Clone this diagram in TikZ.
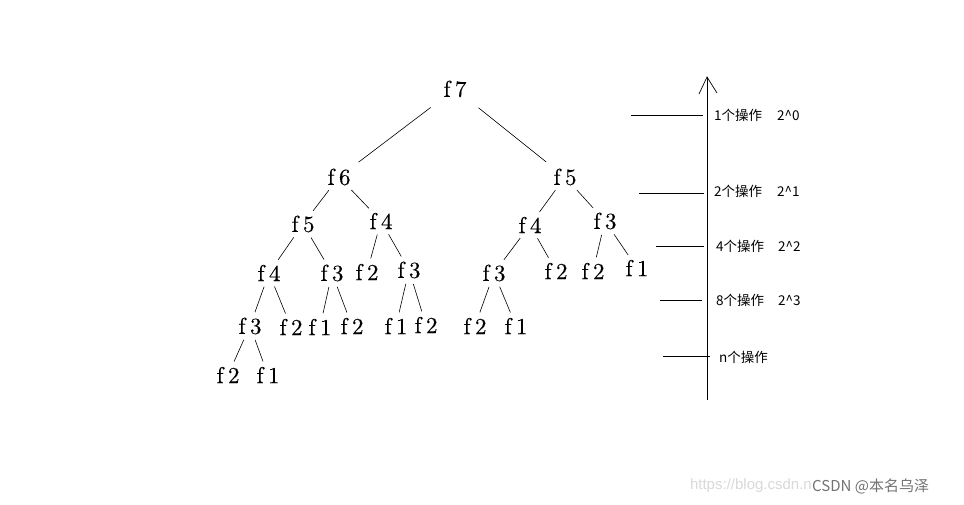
\documentclass[tikz,border=0pt]{standalone}
\usepackage{fontspec}
\newfontfamily\cjk{Noto Sans CJK SC}
\newfontfamily\wmfont{Liberation Sans}
\newfontfamily\treefont{lmroman10-regular.otf}[FakeBold=0.3]
\newcommand\ff[1]{f\kern4.5pt#1}
\begin{document}
\begin{tikzpicture}[x=1pt,y=-1pt,
  t/.style={font=\treefont\fontsize{23}{27}\selectfont, inner sep=1.5pt},
  e/.style={line width=0.6pt, shorten <=4pt, shorten >=4pt},
  etop/.style={line width=0.6pt, shorten <=14pt, shorten >=8pt},
  ax/.style={line width=0.7pt},
  lab/.style={font=\cjk\fontsize{13.5}{16}\selectfont, anchor=west, inner sep=0pt},
  wm/.style={font=\cjk\fontsize{15}{18}\selectfont, inner sep=0pt}
]
\useasboundingbox (0,0) rectangle (964,504);
\fill[white] (0,0) rectangle (964,504);

% level 0
\node[t] (a) at (455,89) {\ff7};
% level 1
\node[t] (b1) at (339,177) {\ff6};
\node[t] (b2) at (565,177) {\ff5};
% level 2
\node[t] (c1) at (303,224) {\ff5};
\node[t] (c2) at (381,221) {\ff4};
\node[t] (c3) at (530,225) {\ff4};
\node[t] (c4) at (605,221) {\ff3};
% level 3
\node[t] (d1) at (269,273) {\ff4};
\node[t] (d2) at (332,273) {\ff3};
\node[t] (d3) at (367,272) {\ff2};
\node[t] (d4) at (409,270) {\ff3};
\node[t] (d5) at (494,273) {\ff3};
\node[t] (d6) at (556,271) {\ff2};
\node[t] (d7) at (593,271) {\ff2};
\node[t] (d8) at (637,268) {\ff1};
% level 4
\node[t] (g1) at (250,326) {\ff3};
\node[t] (g2) at (291,327) {\ff2};
\node[t] (g3) at (320,327) {\ff1};
\node[t] (g4) at (352,326) {\ff2};
\node[t] (g5) at (396,326) {\ff1};
\node[t] (g6) at (426,325) {\ff2};
\node[t] (g7) at (475,326) {\ff2};
\node[t] (g8) at (516,326) {\ff1};
% level 5
\node[t] (h1) at (228,375) {\ff2};
\node[t] (h2) at (268,375) {\ff1};

\draw[etop] (a) -- (b1);
\draw[etop] (a) -- (b2);
\draw[e] (b1) -- (c1);
\draw[e] (b1) -- (c2);
\draw[e] (b2) -- (c3);
\draw[e] (b2) -- (c4);
\draw[e] (c1) -- (d1);
\draw[e] (c1) -- (d2);
\draw[e] (c2) -- (d3);
\draw[e] (c2) -- (d4);
\draw[e] (c3) -- (d5);
\draw[e] (c3) -- (d6);
\draw[e] (c4) -- (d7);
\draw[e] (c4) -- (d8);
\draw[e] (d1) -- (g1);
\draw[e] (d1) -- (g2);
\draw[e] (d2) -- (g3);
\draw[e] (d2) -- (g4);
\draw[e] (d4) -- (g5);
\draw[e] (d4) -- (g6);
\draw[e] (d5) -- (g7);
\draw[e] (d5) -- (g8);
\draw[e] (g1) -- (h1);
\draw[e] (g1) -- (h2);

% axis
\coordinate (top) at (707,77);
\coordinate (bot) at (707,400);
\draw[ax] (bot) -- (top);
\draw[ax] (top) ++(-8,17) -- (top) -- ++(10,16);

\coordinate (t1a) at (631,115);   \coordinate (t1b) at (703,115);
\coordinate (t2a) at (639,193);   \coordinate (t2b) at (704,193);
\coordinate (t3a) at (656,246.5); \coordinate (t3b) at (704,246.5);
\coordinate (t4a) at (660,300.5); \coordinate (t4b) at (702,300.5);
\coordinate (t5a) at (663,356);   \coordinate (t5b) at (710,356);
\draw[ax] (t1a) -- (t1b);
\draw[ax] (t2a) -- (t2b);
\draw[ax] (t3a) -- (t3b);
\draw[ax] (t4a) -- (t4b);
\draw[ax] (t5a) -- (t5b);

\node[lab] (l1) at (714,115) {1个操作\hspace{15pt}2\textasciicircum 0};
\node[lab] (l2) at (714,191) {2个操作\hspace{15pt}2\textasciicircum 1};
\node[lab] (l3) at (716,246) {4个操作\hspace{14pt}2\textasciicircum 2};
\node[lab] (l4) at (716,300) {8个操作\hspace{14pt}2\textasciicircum 3};
\node[lab] (l5) at (719,357) {n个操作};

% watermark
\node[wm, text=black!15, anchor=east, font=\wmfont\fontsize{15}{18}\selectfont] (url) at (812,486) {https://blog.csdn.n};
\node[wm, text=black!55, anchor=west] (mark) at (812,486) {CSDN @本名乌泽};
\end{tikzpicture}
\end{document}
